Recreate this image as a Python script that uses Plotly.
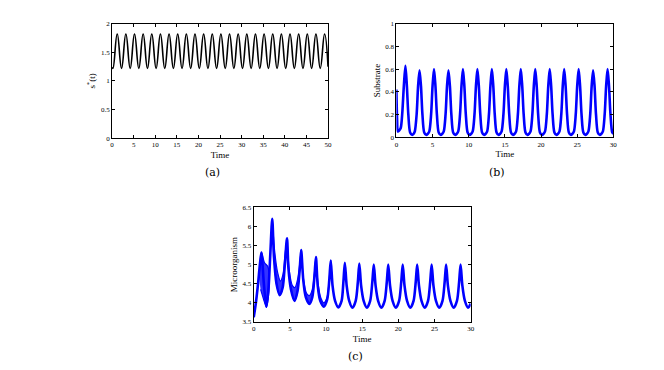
import plotly.graph_objects as go

# ---------------- data ----------------
# (a) s*(t): alternating troughs / peaks
a_time = [0, 0.2, 1.2, 2.2, 3.2, 4.2, 5.2, 6.2, 7.2, 8.2, 9.2, 10.2, 11.2, 12.2, 13.2,
          14.2, 15.2, 16.2, 17.2, 18.2, 19.2, 20.2, 21.2, 22.2, 23.2, 24.2, 25.2, 26.2,
          27.2, 28.2, 29.2, 30.2, 31.2, 32.2, 33.2, 34.2, 35.2, 36.2, 37.2, 38.2, 39.2,
          40.2, 41.2, 42.2, 43.2, 44.2, 45.2, 46.2, 47.2, 48.2, 49.2, 50.0]
a_s = [1.24, 1.22, 1.82, 1.22, 1.82, 1.22, 1.82, 1.22, 1.82, 1.22, 1.82, 1.22, 1.82, 1.22,
       1.82, 1.22, 1.82, 1.22, 1.82, 1.22, 1.82, 1.22, 1.82, 1.22, 1.82, 1.22, 1.82, 1.22,
       1.82, 1.22, 1.82, 1.22, 1.82, 1.22, 1.82, 1.22, 1.82, 1.22, 1.82, 1.22, 1.82, 1.22,
       1.82, 1.22, 1.82, 1.22, 1.82, 1.22, 1.82, 1.22, 1.82, 1.25]

# (b) Substrate
b_time = [0, 0.1, 0.2, 0.4, 0.6, 0.8, 1.03, 1.25, 1.45, 1.65, 1.9, 2.15, 2.4,
          2.55, 2.8, 3.0, 3.2, 3.4, 3.6, 3.85, 4.1, 4.35,
          4.55, 4.8, 5.0, 5.2, 5.4, 5.6, 5.85, 6.1, 6.35,
          6.55, 6.8, 7.0, 7.2, 7.4, 7.6, 7.85, 8.1, 8.35,
          8.55, 8.8, 9.0, 9.2, 9.4, 9.6, 9.85, 10.1, 10.35,
          10.55, 10.8, 11.0, 11.2, 11.4, 11.6, 11.85, 12.1, 12.35,
          12.55, 12.8, 13.0, 13.2, 13.4, 13.6, 13.85, 14.1, 14.35,
          14.55, 14.8, 15.0, 15.2, 15.4, 15.6, 15.85, 16.1, 16.35,
          16.55, 16.8, 17.0, 17.2, 17.4, 17.6, 17.85, 18.1, 18.35,
          18.55, 18.8, 19.0, 19.2, 19.4, 19.6, 19.85, 20.1, 20.35,
          20.55, 20.8, 21.0, 21.2, 21.4, 21.6, 21.85, 22.1, 22.35,
          22.55, 22.8, 23.0, 23.2, 23.4, 23.6, 23.85, 24.1, 24.35,
          24.55, 24.8, 25.0, 25.2, 25.4, 25.6, 25.85, 26.1, 26.35,
          26.55, 26.8, 27.0, 27.2, 27.4, 27.6, 27.85, 28.1, 28.35,
          28.55, 28.8, 29.0, 29.2, 29.4, 29.6, 29.85, 30.0]
b_sub = [0.42, 0.15, 0.05, 0.06, 0.08, 0.2, 0.45, 0.63, 0.45, 0.2, 0.04, 0.02, 0.03,
         0.05, 0.2, 0.45, 0.59, 0.45, 0.2, 0.04, 0.02, 0.03,
         0.05, 0.2, 0.45, 0.60, 0.45, 0.2, 0.04, 0.02, 0.03,
         0.05, 0.2, 0.45, 0.59, 0.45, 0.2, 0.04, 0.02, 0.03,
         0.05, 0.2, 0.45, 0.60, 0.45, 0.2, 0.04, 0.02, 0.03,
         0.05, 0.2, 0.45, 0.60, 0.45, 0.2, 0.04, 0.02, 0.03,
         0.05, 0.2, 0.45, 0.60, 0.45, 0.2, 0.04, 0.02, 0.03,
         0.05, 0.2, 0.45, 0.60, 0.45, 0.2, 0.04, 0.02, 0.03,
         0.05, 0.2, 0.45, 0.60, 0.45, 0.2, 0.04, 0.02, 0.03,
         0.05, 0.2, 0.45, 0.60, 0.45, 0.2, 0.04, 0.02, 0.03,
         0.05, 0.2, 0.45, 0.60, 0.45, 0.2, 0.04, 0.02, 0.03,
         0.05, 0.2, 0.45, 0.60, 0.45, 0.2, 0.04, 0.02, 0.03,
         0.05, 0.2, 0.45, 0.60, 0.45, 0.2, 0.04, 0.02, 0.03,
         0.05, 0.2, 0.45, 0.59, 0.45, 0.2, 0.04, 0.02, 0.03,
         0.05, 0.2, 0.45, 0.60, 0.45, 0.2, 0.04, 0.03]

# (c) Microorganism: main curve (lower edge of the band)
c_time = [0, 0.3, 0.6, 0.85, 1.06, 1.4, 1.75, 2.05, 2.3, 2.56,
          2.8, 3.15, 3.6, 4.0, 4.3, 4.6,
          4.8, 5.15, 5.65, 6.05, 6.35, 6.56,
          6.85, 7.2, 7.7, 8.1, 8.4, 8.6,
          8.85, 9.2, 9.7, 10.15, 10.45, 10.65,
          10.9, 11.25, 11.7, 12.15, 12.4, 12.6,
          12.85, 13.2, 13.65, 14.1, 14.4, 14.6,
          14.85, 15.2, 15.65, 16.1, 16.4, 16.6,
          16.85, 17.2, 17.65, 18.1, 18.4, 18.6,
          18.85, 19.2, 19.65, 20.1, 20.4, 20.6,
          20.85, 21.2, 21.65, 22.1, 22.4, 22.6,
          22.85, 23.2, 23.65, 24.1, 24.4, 24.6,
          24.85, 25.2, 25.65, 26.1, 26.4, 26.6,
          26.85, 27.2, 27.65, 28.1, 28.4, 28.6,
          28.85, 29.2, 29.65, 30.0]
c_mic = [3.62, 4.0, 4.5, 5.0, 5.32, 4.5, 3.9, 4.4, 5.3, 6.2,
         5.2, 4.5, 4.2, 4.4, 5.0, 5.69,
         4.9, 4.35, 4.05, 4.3, 4.85, 5.38,
         4.6, 4.15, 3.97, 4.15, 4.7, 5.2,
         4.45, 4.05, 3.9, 4.08, 4.6, 5.11,
         4.45, 4.05, 3.88, 4.05, 4.55, 5.05,
         4.45, 4.05, 3.87, 4.05, 4.55, 5.03,
         4.45, 4.05, 3.87, 4.05, 4.55, 5.0,
         4.45, 4.05, 3.87, 4.05, 4.55, 5.0,
         4.45, 4.05, 3.87, 4.05, 4.55, 5.0,
         4.45, 4.05, 3.87, 4.05, 4.55, 5.0,
         4.45, 4.05, 3.87, 4.05, 4.55, 5.0,
         4.45, 4.05, 3.87, 4.05, 4.55, 5.0,
         4.45, 4.05, 3.87, 4.05, 4.55, 5.0,
         4.45, 4.05, 3.87, 3.98]

# (c) spread of trajectories in the early transient (closed outlines, None = gap)
c_band_time = [0.75, 1.06, 1.5, 1.95, 2.15, 2.0, 1.75, 1.35, 0.95, None,
               2.56, 2.9, 3.3, 3.7, 4.05, 4.35, 4.6, 4.3, 4.0, 3.6, 3.15, 2.8, None,
               4.6, 4.95, 5.35, 5.7, 6.05, 6.35, 6.56, 6.35, 6.05, 5.65, 5.15, 4.8, None,
               6.56, 6.9, 7.3, 7.7, 8.1, 8.4, 8.6, 8.4, 8.1, 7.7, 7.2, 6.85, None,
               8.6, 8.9, 9.3, 9.7, 10.15, 10.45, 10.65, 10.45, 10.15, 9.7, 9.2, 8.85]
c_band_mic = [4.65, 5.32, 5.05, 4.95, 4.6, 4.1, 3.88, 4.1, 4.35, None,
              6.2, 5.35, 4.8, 4.57, 4.75, 5.3, 5.69, 5.0, 4.4, 4.2, 4.5, 5.2, None,
              5.69, 4.8, 4.45, 4.4, 4.6, 5.0, 5.38, 4.85, 4.3, 4.05, 4.35, 4.9, None,
              5.38, 4.6, 4.25, 4.19, 4.35, 4.8, 5.2, 4.7, 4.15, 3.97, 4.15, 4.6, None,
              5.2, 4.5, 4.12, 4.0, 4.15, 4.65, 5.11, 4.6, 4.08, 3.9, 4.05, 4.45]

a_xticks = [0, 5, 10, 15, 20, 25, 30, 35, 40, 45, 50]
a_yticks = [0, 0.5, 1, 1.5, 2]
b_xticks = [0, 5, 10, 15, 20, 25, 30]
b_yticks = [0, 0.2, 0.4, 0.6, 0.8, 1]
c_xticks = [0, 5, 10, 15, 20, 25, 30]
c_yticks = [3.5, 4, 4.5, 5, 5.5, 6, 6.5]

# ---------------- figure ----------------
SERIF = "Liberation Serif"
BLUE = "#0000ff"

fig = go.Figure()
fig.add_trace(go.Scatter(x=a_time, y=a_s, mode="lines", xaxis="x", yaxis="y",
                         line=dict(color="black", width=1.6, shape="spline", smoothing=1.3)))
fig.add_trace(go.Scatter(x=b_time, y=b_sub, mode="lines", xaxis="x2", yaxis="y2",
                         line=dict(color=BLUE, width=2.6, shape="spline", smoothing=0.8)))
fig.add_trace(go.Scatter(x=c_band_time, y=c_band_mic, mode="lines", xaxis="x3", yaxis="y3",
                         fill="toself", fillcolor="rgba(0,0,255,0.8)", connectgaps=False,
                         line=dict(color=BLUE, width=1.2, shape="spline", smoothing=0.8)))
fig.add_trace(go.Scatter(x=c_time, y=c_mic, mode="lines", xaxis="x3", yaxis="y3",
                         line=dict(color=BLUE, width=2.6, shape="spline", smoothing=0.8)))


def ax(domain, rng, ticks, title=None, anchor=None):
    d = dict(domain=domain, range=rng, tickvals=ticks, ticktext=[f"{t:g}" for t in ticks],
             showline=True, linecolor="black", linewidth=1, mirror="ticks",
             ticks="inside", ticklen=3, tickcolor="black", tickwidth=1,
             showgrid=False, zeroline=False, anchor=anchor,
             tickfont=dict(family=SERIF, size=7, color="black"))
    if title:
        d["title"] = dict(text=title, font=dict(family=SERIF, size=9, color="black"), standoff=3)
    return d


# the page body has an 8 px margin, so the figure sits at (8, 8)
OFF = 8
W, H = 664 - 2 * OFF, 370 - 2 * OFF


def px(x0, x1):
    return [(x0 - OFF) / W, (x1 - OFF) / W]


def py(y_top, y_bot):
    return [1 - (y_bot - OFF) / H, 1 - (y_top - OFF) / H]


def cap(text, x, y):
    return dict(text=text, x=(x - OFF) / W, y=1 - (y - OFF) / H, xref="paper", yref="paper",
                xanchor="center", yanchor="middle", showarrow=False,
                font=dict(family="DejaVu Serif", size=11, color="black"))


fig.update_layout(
    width=W, height=H, margin=dict(l=0, r=0, t=0, b=0),
    paper_bgcolor="white", plot_bgcolor="white", showlegend=False,
    xaxis=ax(px(111, 329), [0, 50], a_xticks, "Time", "y"),
    yaxis=ax(py(20, 137), [0, 2], a_yticks, "s<sup>*</sup>(t)", "x"),
    xaxis2=ax(px(398, 617), [0, 30], b_xticks, "Time", "y2"),
    yaxis2=ax(py(20, 136), [0, 1], b_yticks, "Substrate", "x2"),
    xaxis3=ax(px(254, 473), [0, 30], c_xticks, "Time", "y3"),
    yaxis3=ax(py(208, 325), [3.5, 6.5], c_yticks, "Microorganism", "x3"),
    annotations=[cap("(a)", 212, 172), cap("(b)", 500, 172), cap("(c)", 357, 360)],
)

fig.write_html("out.html")
